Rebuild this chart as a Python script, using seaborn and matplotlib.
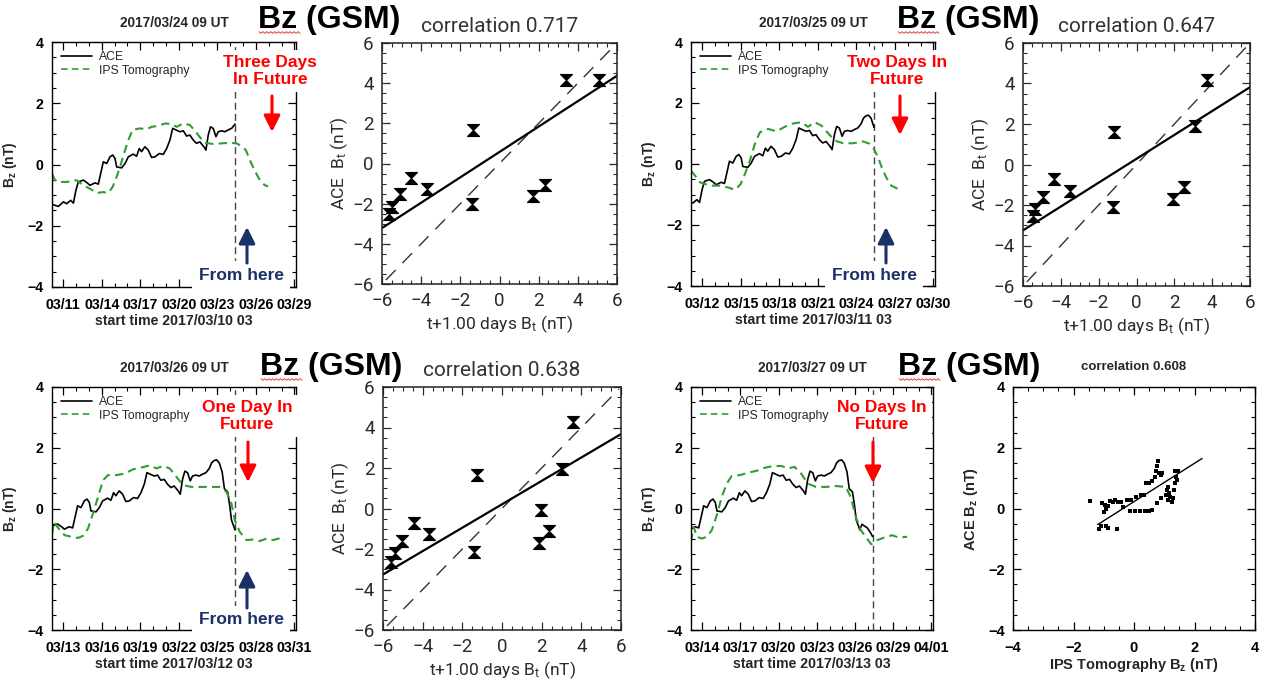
import numpy as np
import pandas as pd
import matplotlib
matplotlib.use("Agg")
import matplotlib.pyplot as plt
import matplotlib.dates as mdates
from matplotlib.ticker import MultipleLocator, FixedLocator
from matplotlib.patches import FancyArrowPatch
from matplotlib.path import Path
from matplotlib import font_manager as fm
import seaborn as sns

# ---------------------------------------------------------------------------
# Data
# ---------------------------------------------------------------------------
BASE = pd.Timestamp("2017-03-10 00:00")

# ACE in-situ Bz (GSM), time in days since 2017-03-10 00 UT
ace_day = [0.125, 0.62, 1.01, 1.27, 1.58, 1.79, 1.99, 2.17, 2.56, 2.87,
           3.08, 3.47, 3.73, 3.86, 4.12, 4.38, 4.64, 4.85, 5.03, 5.16,
           5.55, 5.81, 6.07, 6.45, 6.71, 6.92, 7.10, 7.36, 7.62, 7.88,
           8.14, 8.48, 8.79, 9.05, 9.31, 9.52, 9.77, 10.09, 10.35, 10.60,
           10.86, 11.12, 11.38, 11.64, 11.95, 12.11, 12.29, 12.47, 12.68, 12.89,
           13.07, 13.33, 13.59, 13.85, 14.11, 14.375, 14.55, 14.75, 14.95, 15.15,
           15.375, 15.55, 15.80, 15.97, 16.10, 16.375, 16.55, 16.75, 16.95, 17.10,
           17.25, 17.375]
ace_bz = [-1.30, -1.37, -1.22, -1.28, -1.17, -1.26, -0.84, -0.57, -0.51, -0.60,
          -0.68, -0.60, -0.64, -0.40, 0.09, 0.03, 0.25, 0.31, 0.20, -0.08,
          -0.11, 0.03, 0.25, 0.34, 0.27, 0.52, 0.42, 0.58, 0.47, 0.23,
          0.25, 0.36, 0.33, 0.52, 0.80, 1.18, 1.13, 1.07, 1.10, 0.93,
          0.96, 0.80, 0.69, 0.74, 0.58, 0.47, 0.96, 1.23, 1.18, 0.91,
          1.07, 1.10, 1.07, 1.13, 1.18, 1.32, 1.50, 1.58, 1.60, 1.50,
          1.20, 0.65, 0.55, 0.08, -0.38, -0.70, -0.52, -0.58, -0.63, -0.72,
          -0.82, -0.92]

# IPS tomography Bz for each forecast run (days since 2017-03-10 00 UT)
ips1_day = [0.125, 0.36, 0.75, 1.27, 2.04, 2.56, 3.08, 3.60, 4.12, 4.51,
            4.85, 5.16, 5.42, 5.73, 6.07, 6.40, 6.97, 7.49, 7.88, 8.40,
            8.92, 9.44, 9.83, 10.35, 10.86, 11.25, 11.64, 12.03, 12.68, 13.33,
            13.98, 14.50, 14.88, 15.22, 15.59, 15.92, 16.31, 16.70, 16.96]
ips1_bz = [-0.30, -0.51, -0.57, -0.57, -0.51, -0.68, -0.79, -0.93, -0.90, -0.93,
           -0.73, -0.40, -0.08, 0.36, 0.80, 1.13, 1.18, 1.15, 1.23, 1.26,
           1.34, 1.32, 1.23, 1.34, 1.29, 1.10, 0.89, 0.71, 0.67, 0.69,
           0.71, 0.69, 0.60, 0.47, 0.09, -0.21, -0.51, -0.68, -0.71]

ips2_day = [1.125, 1.44, 1.82, 2.60, 3.38, 4.03, 4.55, 4.99, 5.32, 5.71,
            6.10, 6.49, 7.14, 7.78, 8.43, 9.08, 9.73, 10.24, 10.76, 11.28,
            11.80, 12.32, 12.96, 13.74, 14.52, 15.04, 15.37, 15.69, 16.02, 16.33,
            16.72, 17.11, 17.50]
ips2_bz = [-0.22, -0.38, -0.60, -0.71, -0.71, -0.77, -0.85, -0.66, -0.33, 0.11,
           0.66, 1.04, 1.15, 1.07, 1.22, 1.33, 1.37, 1.22, 1.37, 1.26,
           1.01, 0.77, 0.68, 0.68, 0.74, 0.66, 0.49, 0.22, -0.16, -0.44,
           -0.71, -0.79, -0.85]

ips3_day = [2.125, 2.28, 2.45, 2.72, 3.11, 3.63, 4.15, 4.54, 4.93, 5.32,
            5.71, 6.10, 6.49, 7.14, 7.79, 8.44, 9.09, 9.74, 10.25, 10.77,
            11.29, 11.81, 12.33, 12.98, 13.63, 14.41, 15.19, 15.71, 16.10, 16.36,
            16.75, 17.27, 17.79, 18.31, 18.83, 19.35, 19.74, 20.26]
ips3_bz = [-0.85, -0.45, -0.55, -0.70, -0.88, -0.93, -0.97, -0.90, -0.66, -0.16,
           0.38, 0.93, 1.10, 1.10, 1.15, 1.29, 1.35, 1.42, 1.32, 1.40,
           1.32, 1.04, 0.77, 0.71, 0.71, 0.71, 0.71, 0.55, 0.16, -0.38,
           -0.77, -1.04, -1.02, -1.07, -0.99, -1.04, -0.99, -1.02]

ips4_day = [3.125, 3.33, 3.59, 3.98, 4.37, 4.76, 5.15, 5.54, 5.93, 6.32,
            6.97, 7.62, 8.27, 8.92, 9.57, 10.22, 10.74, 11.26, 11.77, 12.29,
            12.94, 13.72, 14.50, 15.28, 15.67, 16.06, 16.45, 16.84, 17.28, 17.75,
            18.27, 18.92, 19.44, 20.09]
ips4_bz = [-1.10, -0.60, -0.93, -0.99, -0.93, -0.71, -0.22, 0.38, 0.82, 1.07,
           1.10, 1.18, 1.24, 1.34, 1.40, 1.40, 1.32, 1.37, 1.15, 0.82,
           0.71, 0.71, 0.74, 0.71, 0.38, -0.27, -0.71, -0.93, -1.18, -1.04,
           -0.96, -0.88, -0.96, -0.93]

run_labels = ["2017/03/24 09 UT", "2017/03/25 09 UT",
              "2017/03/26 09 UT", "2017/03/27 09 UT"]
run_times = ["2017-03-24 09:00", "2017-03-25 09:00",
             "2017-03-26 09:00", "2017-03-27 09:00"]
window_starts = ["2017-03-10 03:00", "2017-03-11 03:00",
                 "2017-03-12 03:00", "2017-03-13 03:00"]
start_labels = ["start time 2017/03/10 03", "start time 2017/03/11 03",
                "start time 2017/03/12 03", "start time 2017/03/13 03"]
lead_notes = ["Three Days\nIn Future", "Two Days In\nFuture",
              "One Day In\nFuture", "No Days In\nFuture"]

# Daily-averaged comparisons: forecast Bt (t+1 day) vs ACE Bt
corr1_fc = [-5.64, -5.47, -5.06, -4.50, -3.69, -1.34, -1.42, 1.73, 2.33, 3.40, 5.06]
corr1_ace = [-2.51, -2.17, -1.54, -0.72, -1.25, 1.67, -2.04, -1.64, -1.05, 4.18, 4.18]
corr2_fc = [-5.49, -5.35, -4.92, -4.34, -3.54, -1.20, -1.24, 1.95, 2.51, 3.10, 3.72]
corr2_ace = [-2.54, -2.21, -1.59, -0.71, -1.29, 1.61, -2.12, -1.71, -1.13, 1.89, 4.18]
corr3_fc = [-5.62, -5.42, -5.03, -4.44, -3.66, -1.26, -1.40, 1.85, 1.98, 2.39, 3.00, 3.56]
corr3_ace = [-2.62, -2.20, -1.60, -0.73, -1.27, 1.64, -2.15, -1.69, -0.08, -1.13, 1.94, 4.26]

# Hourly IPS tomography Bz vs ACE Bz for the nowcast run
corr4_ips = [-1.44, -1.05, -0.97, -0.92, -0.86, -0.80, -0.71, -0.62, -0.54, -0.42,
             -0.35, -0.22, -0.09, -0.14, 0.02, 0.19, 0.36, 0.50, 0.61, 0.06,
             0.23, 0.33, 0.39, 0.50, 0.61, 0.69, 0.72, 0.76, 0.78, 0.83,
             0.89, 0.94, 0.76, 0.89, 1.06, 1.09, 1.13, 1.20, 1.24, 1.28,
             1.17, 1.33, 1.36, 1.39, 1.36, 1.45, 1.42, 1.11, -1.16, -1.08,
             -0.94, -0.86, -0.56, -1.00]
corr4_ace = [0.25, 0.19, 0.12, -0.03, 0.08, 0.24, 0.20, 0.28, 0.22, 0.20,
             0.06, 0.28, 0.28, -0.08, -0.09, -0.09, -0.09, -0.08, -0.04, 0.39,
             0.44, 0.44, 0.83, 0.85, 0.89, 1.05, 1.22, 1.39, 1.55, 1.16,
             1.11, 1.16, 0.17, 0.33, 0.44, 0.61, 0.72, 0.39, 0.22, 0.33,
             0.50, 0.61, 0.83, 1.05, 1.22, 1.22, 0.94, 0.28, -0.67, -0.56,
             -0.56, -0.63, -0.67, -0.11]
corr_labels = ["correlation 0.717", "correlation 0.647",
               "correlation 0.638", "correlation 0.608"]

# ---------------------------------------------------------------------------
# Style
# ---------------------------------------------------------------------------
sns.set_theme(style="ticks")
_names = {f.name for f in fm.fontManager.ttflist}
NARROW = "Liberation Sans Narrow" if "Liberation Sans Narrow" in _names else "Liberation Sans"
THIN = "Roboto" if "Roboto" in _names else "DejaVu Sans"
plt.rcParams["font.family"] = [NARROW, "DejaVu Sans"]
plt.rcParams["mathtext.default"] = "regular"
plt.rcParams["axes.edgecolor"] = "black"
plt.rcParams["axes.linewidth"] = 1.0

ACE_COLOR = "black"
IPS_COLOR = "#2f9e2f"
RED = "#ff0000"
NAVY = "#1b3068"
THIN_COLOR = "#2a2a2a"

W, H = 1268, 680
fig = plt.figure(figsize=(W / 100, H / 100), dpi=100)
fig.patch.set_facecolor("white")


def add_axes_px(l, t, r, b):
    return fig.add_axes([l / W, 1 - b / H, (r - l) / W, (b - t) / H])


def fxy(x, y):
    return (x / W, 1 - y / H)


def inward_ticks(ax, color, size):
    ax.tick_params(which="both", direction="in", bottom=True, left=True,
                   top=True, right=True, colors=color, labelsize=size)
    ax.tick_params(which="major", length=6, width=0.9, pad=6)
    ax.tick_params(which="minor", length=3, width=0.8)


SERIES_BOXES = [(52, 42, 296, 287), (691, 42, 935, 286),
                (52, 387, 296, 630), (691, 387, 933, 630)]
CORR_BOXES = [(382, 43, 617, 284), (1023, 43, 1250, 286),
              (383, 387, 621, 630), (1013, 387, 1255, 630)]

ips_sets = [(ips1_day, ips1_bz), (ips2_day, ips2_bz),
            (ips3_day, ips3_bz), (ips4_day, ips4_bz)]

ace_df = pd.DataFrame({"time": BASE + pd.to_timedelta(ace_day, unit="D"),
                       "bz": ace_bz})


def draw_series(ax, k):
    t0 = pd.Timestamp(window_starts[k])
    t1 = t0 + pd.Timedelta(days=19)
    run = pd.Timestamp(run_times[k])
    ace = ace_df[(ace_df.time >= t0 - pd.Timedelta(days=0.5)) & (ace_df.time <= run)]
    d, v = ips_sets[k]
    ips = pd.DataFrame({"time": BASE + pd.to_timedelta(d, unit="D"), "bz": v})

    sns.lineplot(data=ace, x="time", y="bz", ax=ax, color=ACE_COLOR, lw=1.2,
                 label="ACE", sort=True)
    sns.lineplot(data=ips, x="time", y="bz", ax=ax, color=IPS_COLOR, lw=1.5,
                 ls=(0, (4, 2.5)), label="IPS Tomography", sort=True)
    ax.axvline(run, color="#444444", lw=1.0, ls=(0, (5, 3)), zorder=1)

    ax.set_xlim(t0, t1)
    ax.set_ylim(-4, 4)
    first = t0.normalize() + pd.Timedelta(days=1)
    ticks = [first + pd.Timedelta(days=3 * i) for i in range(7)]
    ax.xaxis.set_major_locator(FixedLocator(mdates.date2num(ticks)))
    ax.xaxis.set_major_formatter(mdates.DateFormatter("%m/%d"))
    ax.xaxis.set_minor_locator(mdates.DayLocator())
    ax.yaxis.set_major_locator(MultipleLocator(2))
    ax.yaxis.set_minor_locator(MultipleLocator(0.5))
    inward_ticks(ax, "black", 10.2)
    ax.tick_params(axis="x", which="major", pad=8)
    for lab in ax.get_xticklabels() + ax.get_yticklabels():
        lab.set_fontweight("bold")
    ax.set_xlabel(start_labels[k], fontsize=10.2, fontweight="bold", labelpad=1)
    ax.set_ylabel("B$_z$ (nT)", fontsize=10, fontweight="bold", labelpad=6)
    ax.set_title(run_labels[k], fontsize=9.8, fontweight="bold", pad=11)
    leg = ax.legend(loc="upper left", frameon=False, fontsize=8.8,
                    handlelength=2.5, handletextpad=0.6, labelspacing=0.12,
                    borderaxespad=0.35)
    for line in leg.get_lines():
        line.set_linewidth(1.2)
    for s in ax.spines.values():
        s.set_visible(True)
        s.set_linewidth(1.0)


HOURGLASS = Path([(-1, 1), (1, 1), (0, 0), (1, -1), (-1, -1), (0, 0), (-1, 1)],
                 [Path.MOVETO, Path.LINETO, Path.LINETO, Path.LINETO,
                  Path.LINETO, Path.LINETO, Path.CLOSEPOLY])


def rma_fit(x, y):
    x = np.asarray(x, float)
    y = np.asarray(y, float)
    r = np.corrcoef(x, y)[0, 1]
    slope = np.sign(r) * y.std() / x.std()
    return slope, y.mean() - slope * x.mean()


SIX = ["\u22126", "\u22124", "\u22122", "0", "2", "4", "6"]


def draw_corr(ax, xs, ys, title):
    df = pd.DataFrame({"fc": xs, "ace": ys})
    sns.scatterplot(data=df, x="fc", y="ace", ax=ax, marker=HOURGLASS, s=75,
                    color="black", edgecolor="black", linewidth=0.8, zorder=3)
    one = np.array([-5.8, 5.9])
    sns.lineplot(x=one, y=one, ax=ax, color="#333333", lw=1.0,
                 ls=(0, (10, 7)), zorder=2)
    slope, icpt = rma_fit(xs, ys)
    fx = np.array([-6.0, 6.0])
    sns.lineplot(x=fx, y=icpt + slope * fx, ax=ax, color="black", lw=1.6, zorder=2)
    ax.set_xlim(-6, 6)
    ax.set_ylim(-6, 6)
    for axis in (ax.xaxis, ax.yaxis):
        axis.set_minor_locator(MultipleLocator(0.5))
    ax.set_xticks(range(-6, 7, 2))
    ax.set_xticklabels(SIX, family=THIN, color=THIN_COLOR)
    ax.set_yticks(range(-6, 7, 2))
    ax.set_yticklabels(SIX, family=THIN, color=THIN_COLOR)
    inward_ticks(ax, THIN_COLOR, 13.5)
    ax.set_xlabel("t+1.00 days B$_t$ (nT)", family=THIN,
                  fontsize=12.5, color=THIN_COLOR, labelpad=2)
    ax.set_ylabel("ACE  B$_t$ (nT)", family=THIN,
                  fontsize=12.5, color=THIN_COLOR, labelpad=2)
    ax.set_title(title, family=THIN, fontsize=15, color="#333333", pad=8)
    for s in ax.spines.values():
        s.set_visible(True)
        s.set_linewidth(1.1)
        s.set_color("#222222")


def draw_nowcast(ax, xs, ys, title):
    df = pd.DataFrame({"ips": xs, "ace": ys})
    sns.scatterplot(data=df, x="ips", y="ace", ax=ax, marker="s", s=10,
                    color="black", linewidth=0, zorder=3)
    slope, icpt = rma_fit(xs, ys)
    fx = np.array([-1.2, 2.25])
    sns.lineplot(x=fx, y=icpt + slope * fx, ax=ax, color="black", lw=1.0, zorder=2)
    ax.set_xlim(-4, 4)
    ax.set_ylim(-4, 4)
    for axis in (ax.xaxis, ax.yaxis):
        axis.set_major_locator(MultipleLocator(2))
        axis.set_minor_locator(MultipleLocator(0.5))
    inward_ticks(ax, "black", 10.5)
    ax.tick_params(axis="x", which="major", pad=8)
    for lab in ax.get_xticklabels() + ax.get_yticklabels():
        lab.set_fontweight("bold")
    ax.set_xlabel("IPS Tomography B$_z$ (nT)", fontsize=10.5, fontweight="bold",
                  labelpad=1)
    ax.set_ylabel("ACE B$_z$ (nT)", fontsize=10.5, fontweight="bold", labelpad=6)
    ax.set_title(title, fontsize=9.5, fontweight="bold", pad=12)
    for s in ax.spines.values():
        s.set_visible(True)
        s.set_linewidth(1.0)


corr_sets = [(corr1_fc, corr1_ace), (corr2_fc, corr2_ace), (corr3_fc, corr3_ace)]

for k in range(4):
    ax = add_axes_px(*SERIES_BOXES[k])
    draw_series(ax, k)
    cax = add_axes_px(*CORR_BOXES[k])
    if k < 3:
        draw_corr(cax, corr_sets[k][0], corr_sets[k][1], corr_labels[k])
    else:
        draw_nowcast(cax, corr4_ips, corr4_ace, corr_labels[k])

# Panel headings
HEAD_POS = [(258, 20), (897, 20), (260, 367), (898, 367)]
for x, y in HEAD_POS:
    fig.text(*fxy(x, y), "Bz (GSM)", family="Liberation Sans", fontweight="bold",
             fontsize=23, ha="left", va="center", color="black")
    zx = np.linspace(x + 1, x + 42, 22)
    zy = y + 12.5 + np.where(np.arange(22) % 2 == 0, -0.8, 0.8)
    fig.add_artist(plt.Line2D(zx / W, 1 - zy / H, color="#e04040", lw=0.7))

# Forecast lead annotations
NOTE_POS = [(270, 71), (897, 71), (247, 416), (882, 416)]
for (x, y), note in zip(NOTE_POS, lead_notes):
    fig.text(*fxy(x, y), note, family="Liberation Sans", fontweight="bold",
             fontsize=12.5, color=RED, ha="center", va="center",
             linespacing=1.15, zorder=5,
             bbox=dict(facecolor="white", edgecolor="none", pad=4))

RED_ARROWS = [(272, 96, 132), (900, 96, 135), (248, 442, 482), (873, 442, 483)]
for x, y0, y1 in RED_ARROWS:
    fig.add_artist(FancyArrowPatch(fxy(x, y0), fxy(x, y1), transform=fig.transFigure,
                                   arrowstyle="-|>,head_length=0.7,head_width=0.35",
                                   mutation_scale=14, lw=2.2, color=RED,
                                   shrinkA=0, shrinkB=0, zorder=6))

HERE_POS = [(241, 275), (874, 275), (241, 620)]
for x, y in HERE_POS:
    fig.text(*fxy(x, y), "From here", family="Liberation Sans", fontweight="bold",
             fontsize=12.5, color=NAVY, ha="center", va="center", zorder=5,
             bbox=dict(facecolor="white", edgecolor="none", pad=5))

NAVY_ARROWS = [(247, 263, 227), (886, 263, 227), (247, 608, 570)]
for x, y0, y1 in NAVY_ARROWS:
    fig.add_artist(FancyArrowPatch(fxy(x, y0), fxy(x, y1), transform=fig.transFigure,
                                   arrowstyle="-|>,head_length=0.7,head_width=0.35",
                                   mutation_scale=14, lw=2.2, color=NAVY,
                                   shrinkA=0, shrinkB=0, zorder=6))

fig.savefig("out.png", dpi=100, facecolor="white")
